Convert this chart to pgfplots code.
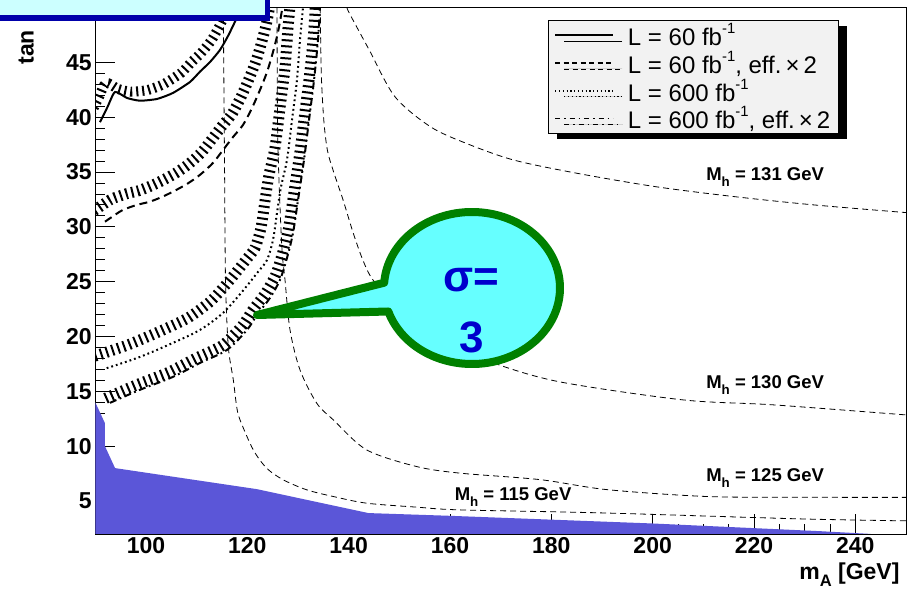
\documentclass[border=0pt]{standalone}
\usepackage{fontspec}
\setmainfont{Liberation Sans}
\usepackage{pgfplots}
\usepackage{pgfplotstable}
\pgfplotsset{compat=1.18}
\usetikzlibrary{shadows}
\definecolor{fillblue}{RGB}{91,86,216}
\definecolor{boxcyan}{RGB}{204,255,255}
\definecolor{boxblue}{RGB}{0,0,170}
\definecolor{balloonfill}{RGB}{102,255,255}
\definecolor{balloongreen}{RGB}{0,128,0}
\definecolor{sigmablue}{RGB}{0,0,204}
\definecolor{legfill}{RGB}{242,242,242}
\newcommand\sub[1]{\raisebox{-0.32em}{\scalebox{0.72}{#1}}}
\newcommand\sUp[1]{\raisebox{0.5em}{\scalebox{0.62}{#1}}}
\tikzset{
  mhline/.style={black, line width=0.8pt, dash pattern=on 6pt off 4pt, smooth, tension=0.5},
  mhlabel/.style={font=\fontsize{18.5}{18.5}\selectfont\bfseries},
  hatchline/.style={black, dash pattern=on 2pt off 4pt, smooth, tension=0.4},
}
% contour data (m_A, tan beta)
\pgfplotstableread{
x y
90.93 39.54
92.4 40.92
93.89 42.30
96.26 41.75
98.83 41.50
102.18 41.66
105.33 42.21
108.69 43.21
110.66 44.15
112.64 45.03
114.61 46.13
116.19 47.40
117.57 48.71
118.76 50.0
}\tabsolid
\pgfplotstableread{
x y
91.91 30.47
93.89 31.09
95.47 31.55
98.23 32.0
100.80 32.30
103.17 32.73
105.33 33.21
108.10 33.91
110.66 34.74
113.23 35.83
115.20 37.0
117.18 38.19
119.15 39.29
120.93 40.84
122.5 42.48
123.89 44.12
125.07 45.94
126.06 47.77
126.94 50
}\tabdashed
\pgfplotstableread{
x y
92.25 17.11
98.82 18.14
105.33 19.42
110.66 20.60
115.20 22.15
118.95 24.07
122.11 25.89
123.89 26.98
125.07 28.81
125.86 31.27
126.65 33.64
127.83 36.10
128.82 39.74
129.80 43.39
130.40 47.04
130.99 50
}\tabdotted
\pgfplotstableread{
x y
92.90 13.95
98.82 15.14
105.33 16.32
110.66 17.59
116.0 18.78
119.94 20.60
121.91 21.97
124.47 23.52
126.45 25.16
127.83 27.16
129.02 29.44
130.01 32.45
131.19 36.10
132.18 39.74
133.17 43.39
133.95 47.04
134.35 50
}\tabdashdot
\begin{document}
\begin{tikzpicture}[x=1pt,y=1pt]
\useasboundingbox (0,0) rectangle (919,590);
\begin{axis}[
  at={(95.3pt,56.1pt)}, anchor=south west,
  scale only axis, width=810.7pt, height=526.4pt,
  xmin=90, xmax=250, ymin=2, ymax=50,
  xtick={100,120,...,240}, ytick={5,10,...,45},
  minor x tick num=3, minor y tick num=4,
  tick align=inside, xtick pos=left, ytick pos=left,
  major tick length=20pt, minor tick length=10pt,
  axis line style={line width=0.8pt},
  tick style={black, line width=0.8pt},
  ticklabel style={font=\fontsize{23}{23}\selectfont\bfseries},
  /pgf/number format/assume math mode=true,
  legend style={at={(rel axis cs:0.5584,0.9763)}, anchor=north west,
    draw=black, line width=0.8pt, fill=legfill,
    font=\fontsize{24}{25}\selectfont,
    drop shadow={shadow xshift=9pt, shadow yshift=-6pt, fill=black, opacity=1},
    inner xsep=6pt, inner ysep=1pt, row sep=0pt, column sep=12pt},
  legend cell align=left,
  legend image code/.code={\draw[#1, line width=1.6pt] (0pt,0pt) -- (58pt,0pt);},
]
% blue excluded region
\addplot[fill=fillblue, draw=none, forget plot] coordinates {
 (90,2) (90,14.0) (91.9,12.1) (91.9,10.0) (93.9,8.0) (121.9,6.08) (143.9,3.9)
 (160,3.65) (200,2.95) (233,2.25) (243,2.0)} -- cycle;
% M_h contours
\addplot[mhline, forget plot] coordinates {
 (115.26,50) (115.5,36.1) (115.7,25.16) (116.25,19.08) (117.24,16.04) (117.9,13.61)
 (118.56,12.4) (121.18,9.66) (123.83,7.99) (127.1,6.93) (131.72,6.02) (136.97,5.41)
 (143.56,4.8) (153.43,4.44) (161.97,4.19) (189.6,3.92) (229.1,3.37) (250,3.19)};
\addplot[mhline, forget plot] coordinates {
 (125.86,50) (125.96,39.74) (126.25,34.27) (126.85,27.89) (127.44,25.16) (128.43,20.6)
 (130.4,16.95) (133.7,13.92) (136.97,12.4) (143.56,9.66) (153.43,8.14) (161.97,7.54)
 (177.76,6.95) (190.93,6.04) (210.66,5.41) (230,5.34) (250,5.33)};
\addplot[mhline, forget plot] coordinates {
 (134.4,50) (134.6,44) (135.1,39.7) (135.8,37.0) (136.9,35.2) (138.9,32.45)
 (140.9,29.44) (142.8,26.98) (144.8,25.16) (150.1,22.42) (158.0,19.69) (168.5,17.6)
 (181.7,15.86) (206.0,14.22) (223.7,13.77) (250,12.85)};
\addplot[mhline, forget plot] coordinates {
 (139.7,50) (140.15,49.47) (144.06,46.13) (149.13,41.87) (156.13,39.13) (163.16,37.62)
 (172.51,36.10) (185.0,34.89) (200.6,33.66) (216.2,32.75) (231.8,32.0) (250,31.3)};
% hatching (drawn as wide short-dash strokes offset to the excluded side)
\addplot[hatchline, line width=10pt, xshift=-9pt, yshift=9pt, forget plot] table {\tabsolid};
\addplot[hatchline, line width=11pt, xshift=-11pt, yshift=11pt, forget plot] table {\tabdashed};
\addplot[hatchline, line width=11pt, xshift=-12pt, yshift=12pt, forget plot] table {\tabdotted};
\addplot[hatchline, line width=11pt, xshift=-4.5pt, yshift=4.5pt, forget plot] table {\tabdashdot};
% contour lines
\addplot[black, line width=2pt, smooth, tension=0.35, forget plot] table {\tabsolid};
\addplot[black, line width=2pt, dash pattern=on 8pt off 5pt, smooth, tension=0.5, forget plot] table {\tabdashed};
\addplot[black, line width=2pt, dash pattern=on 1.8pt off 3pt, smooth, tension=0.5, forget plot] table {\tabdotted};
\addplot[black, line width=2pt, dash pattern=on 7pt off 3.5pt on 1.8pt off 3.5pt, smooth, tension=0.5, forget plot] table {\tabdashdot};
% legend entries
\addlegendimage{solid}
\addlegendentry{L = 60 fb\sUp{-1}}
\addlegendimage{dash pattern=on 5pt off 3.5pt}
\addlegendentry{L = 60 fb\sUp{-1}, eff.\,×\,2}
\addlegendimage{dash pattern=on 1.2pt off 2.6pt, line width=1.2pt}
\addlegendentry{L = 600 fb\sUp{-1}}
\addlegendimage{dash pattern=on 5pt off 4pt on 1.5pt off 4pt}
\addlegendentry{L = 600 fb\sUp{-1}, eff.\,×\,2}
% labels
\node[mhlabel] at (axis cs:222.2,34.55) {M\sub{h} = 131 GeV};
\node[mhlabel] at (axis cs:222.2,15.59) {M\sub{h} = 130 GeV};
\node[mhlabel] at (axis cs:222.2,7.11) {M\sub{h} = 125 GeV};
\node[mhlabel] at (axis cs:172.45,5.38) {M\sub{h} = 115 GeV};
\end{axis}
% axis titles
\node[rotate=90, anchor=base west, font=\fontsize{23}{23}\selectfont\bfseries] at (33.5,522) {tan\hspace{14pt}β};
\node[anchor=base east, font=\fontsize{23}{23}\selectfont\bfseries] at (903,11) {m\sub{A} [GeV]};
% balloon
\filldraw[draw=balloongreen, fill=balloonfill, line width=8pt, line join=round]
  (257,275) -- (384.2,307.3) arc[start angle=176, end angle=-162, x radius=88, y radius=76] -- cycle;
\node[text=sigmablue, font=\fontsize{44}{44}\selectfont\bfseries] at (471,310) {σ=};
\node[text=sigmablue, font=\fontsize{44}{44}\selectfont\bfseries] at (472,253) {3};
% title box
\filldraw[fill=boxcyan, draw=boxblue, line width=5.5pt] (-20,572.2) rectangle (267.5,620);
\end{tikzpicture}
\end{document}
